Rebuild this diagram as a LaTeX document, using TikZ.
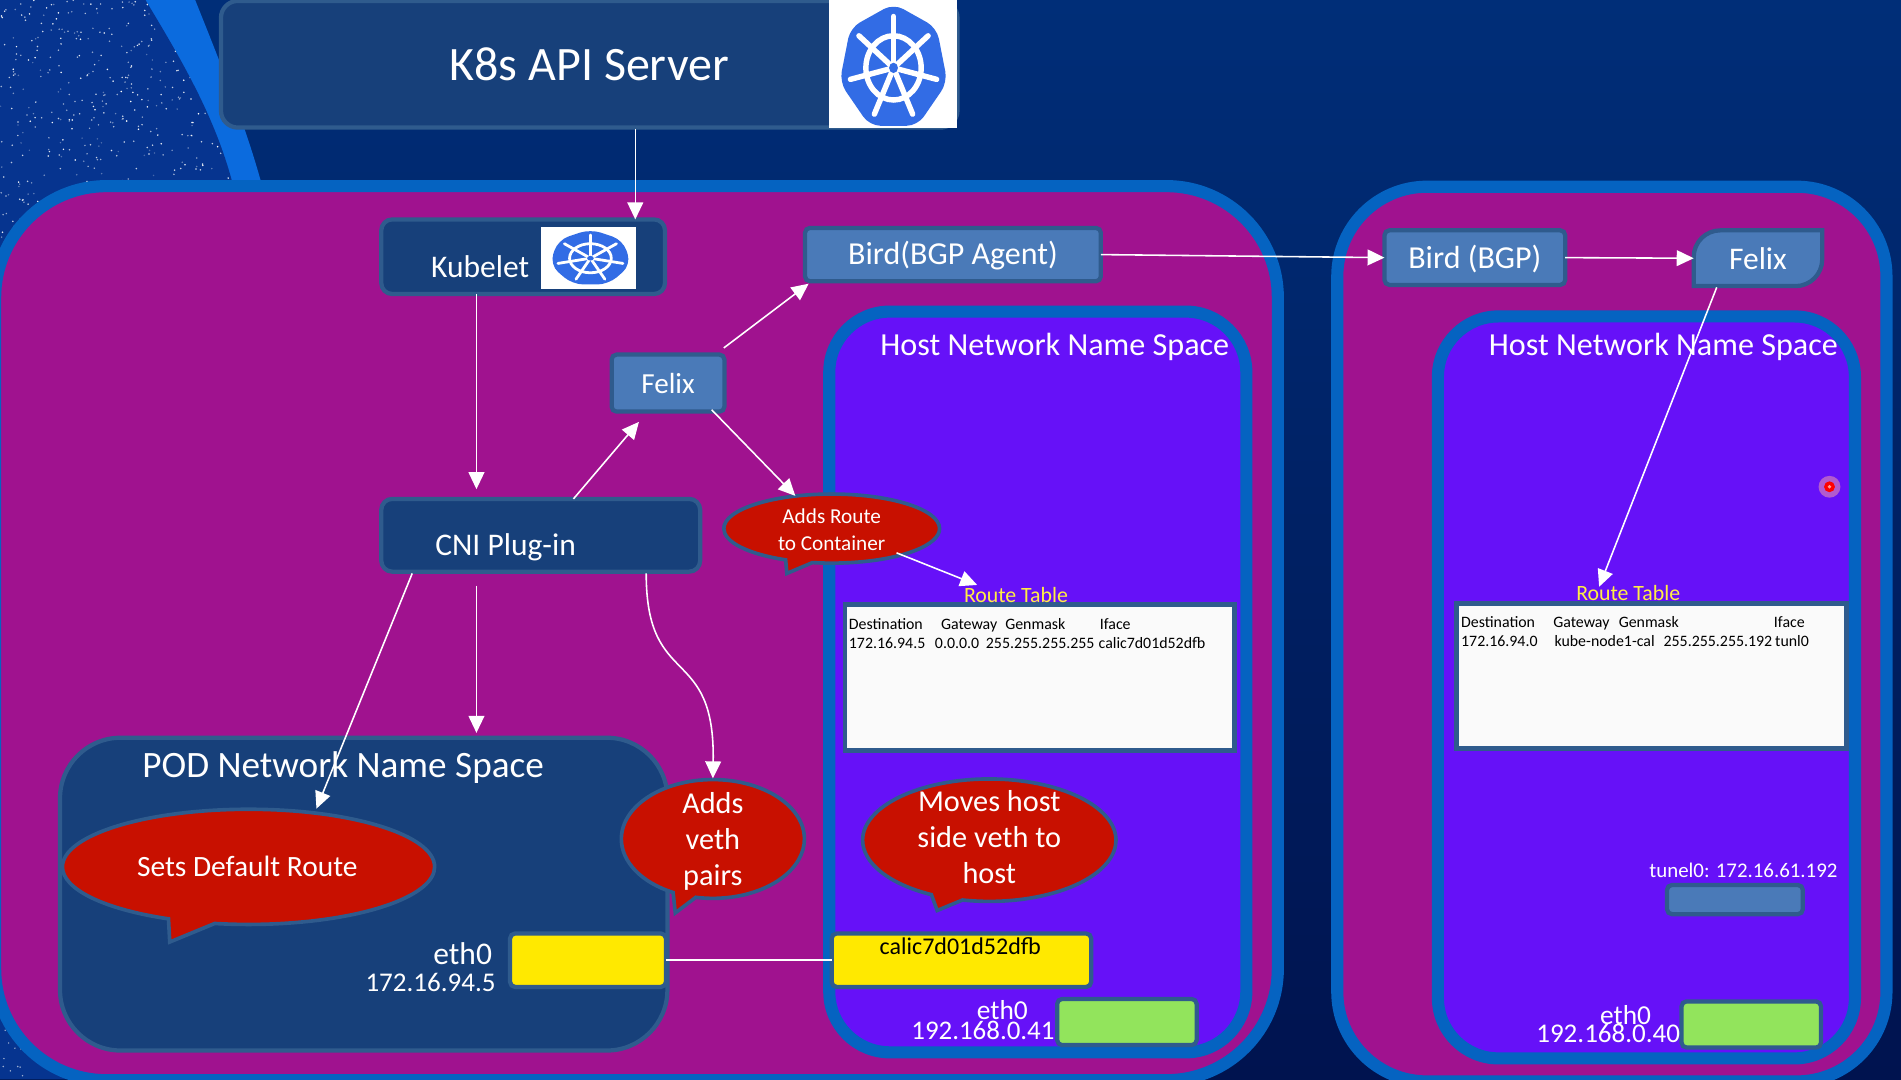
\documentclass[tikz,border=0pt]{standalone}
\usepackage{fontspec}
\setmainfont{Carlito}
\usepackage{xcolor}
\usetikzlibrary{arrows.meta,shapes.callouts,shapes.geometric}

\definecolor{deskbot}{HTML}{00134F}
\definecolor{desktop}{HTML}{002E78}
\definecolor{starsky}{HTML}{06348F}
\definecolor{swoosh}{HTML}{0B6BDE}
\definecolor{hostpurple}{HTML}{A0128F}
\definecolor{hostblue}{HTML}{0563C1}
\definecolor{nsviolet}{HTML}{6611F8}
\definecolor{navyfill}{HTML}{17407A}
\definecolor{edgeblue}{HTML}{2F5B8D}
\definecolor{paleblue}{HTML}{4A7AB8}
\definecolor{bubblered}{HTML}{C81000}
\definecolor{ifyellow}{HTML}{FFE900}
\definecolor{ifgreen}{HTML}{92E45C}
\definecolor{tableinfo}{HTML}{FFEE44}
\definecolor{k8sblue}{HTML}{326CE5}

\tikzset{
  kubelogo/.pic={
    \fill[k8sblue, rounded corners=9pt] (-90:100) -- (-38.6:100) -- (12.9:100)
      -- (64.3:100) -- (115.7:100) -- (167.1:100) -- (218.6:100) -- cycle;
    \draw[white] (0,0) circle (50);
    \foreach \a in {-90,-38.6,12.9,64.3,115.7,167.1,218.6}
      \draw[white, line cap=round] (0,0) -- (\a:80);
    \fill[k8sblue] (0,0) circle (8);
  },
}

\begin{document}
\begin{tikzpicture}[
  x=1pt, y=-1pt,
  >={Triangle[length=14pt,width=13pt]},
  hostbox/.style={draw=hostblue, line width=10pt, fill=hostpurple, rounded corners=92pt, outer sep=0pt},
  nsbox/.style={draw=hostblue, line width=10pt, fill=nsviolet, rounded corners=50pt, outer sep=0pt},
  navybox/.style={draw=edgeblue, line width=3.5pt, fill=navyfill, rounded corners=9pt, outer sep=0pt, text=white, inner sep=0pt},
  palebox/.style={draw=edgeblue, line width=3.5pt, fill=paleblue, rounded corners=4pt, outer sep=0pt, text=white, inner sep=0pt, font=\fontsize{26.4}{30}\selectfont},
  ifbox/.style={draw=edgeblue, line width=3.5pt, rounded corners=4pt, outer sep=0pt},
  tablebox/.style={draw=edgeblue, line width=4pt, fill=white!98!black, outer sep=0pt},
  bubble/.style={ellipse callout, draw=edgeblue, line width=3pt, fill=bubblered, inner sep=0pt, outer sep=0pt},
  label/.style={text=white, inner sep=0pt, align=center},
  cell/.style={anchor=base west, inner sep=0pt, text=black, font=\fontsize{13.1}{16}\selectfont},
  wire/.style={draw=white, line width=1.3pt, ->},
]
  \useasboundingbox (0,0) rectangle (1568,890);
  \clip (0,0) rectangle (1568,890);

  % backdrop
  \shade[top color=desktop, bottom color=deskbot] (0,0) rectangle (1568,890);
  \fill[swoosh] (0,0) -- (161,0) .. controls (185,60) and (205,110) .. (218,160) -- (218,890) -- (0,890) -- cycle;
  \begin{scope}
    \clip (0,0) -- (120,0) .. controls (150,50) and (180,100) .. (194,160) -- (194,890) -- (0,890) -- cycle;
    \fill[starsky] (0,0) rectangle (200,890);
    \pgfmathsetseed{42}
    \foreach \i in {1,...,620} {
      \pgfmathsetmacro\sx{rnd*200}
      \pgfmathsetmacro\sy{rnd*230}
      \pgfmathsetmacro\so{0.25+0.75*rnd}
      \fill[white, opacity=\so] (\sx,\sy) circle (0.7);
    }
    \foreach \i in {1,...,50} {
      \pgfmathsetmacro\sx{rnd*90}
      \pgfmathsetmacro\sy{835+rnd*55}
      \fill[white, opacity=0.6] (\sx,\sy) circle (0.7);
    }
  \end{scope}

  % the two hosts
  \node[hostbox, minimum width=1058pt, minimum height=737.5pt] (hosta) at (525,522.25) {};
  \node[hostbox, minimum width=453pt, minimum height=738pt, rounded corners=74pt] (hostb) at (1329.5,523) {};
  \node[nsbox, minimum width=344pt, minimum height=611pt] (nsa) at (856,562.5) {};
  \node[nsbox, minimum width=344pt, minimum height=612pt] (nsb) at (1358,567) {};
  \node[label, font=\fontsize{26.5}{30}\selectfont] (nsatitle) at (870,286) {Host Network Name Space};
  \node[label, font=\fontsize{26.5}{30}\selectfont] (nsbtitle) at (1372,286) {Host Network Name Space};

  % api server and kubelet
  \node[navybox, minimum width=607.5pt, minimum height=104.5pt, rounded corners=14pt,
        font=\fontsize{39.6}{46}\selectfont] (api) at (486,53) {K8s API Server};
  \fill[white] (684,0) rectangle (789.5,105.5);
  \pic[xscale=.456, yscale=.53, line width=4.5pt] at (737,56) {kubelogo};
  \node[navybox, minimum width=234pt, minimum height=61.5pt] (kubelet) at (431.5,211.75) {};
  \node[label, font=\fontsize{26}{30}\selectfont] (kubelettext) at (396,220) {Kubelet};
  \fill[white] (446,187) rectangle (524.5,238);
  \pic[xscale=.344, yscale=.24, line width=2.3pt] at (487,213) {kubelogo};

  % calico pieces
  \node[palebox, minimum width=244pt, minimum height=44pt] (bird) at (786,210) {};
  \node[label, font=\fontsize{26.4}{30}\selectfont] (birdtext) at (786,211) {Bird(BGP Agent)};
  \node[palebox, minimum width=93pt, minimum height=47pt, font=\fontsize{24}{28}\selectfont] (felix) at (551,316) {Felix};
  \node[navybox, minimum width=263pt, minimum height=60pt] (cni) at (446,441.5) {};
  \node[label, font=\fontsize{26}{30}\selectfont] (cnitext) at (417,451) {CNI Plug-in};
  \node[palebox, minimum width=149pt, minimum height=45pt] (birdb) at (1216.5,212.5) {};
  \node[label, font=\fontsize{26.4}{30}\selectfont] (birdbtext) at (1216.5,214) {Bird (BGP)};
  \draw[draw=edgeblue, line width=3.5pt, fill=paleblue] (1397,236) [rounded corners=22pt] -- (1397,190) [sharp corners] -- (1503,190) [rounded corners=22pt] -- (1503,236) [sharp corners] -- cycle;
  \node[label, minimum width=106pt, minimum height=46pt, outer sep=0pt, font=\fontsize{26}{30}\selectfont] (felixb) at (1450,213) {Felix};

  % route tables
  \node[tablebox, minimum width=321pt, minimum height=120.5pt] (tablea) at (857.5,558.75) {};
  \node[tablebox, minimum width=321.5pt, minimum height=119.5pt] (tableb) at (1362.25,557.75) {};
  \node[inner sep=0pt, text=tableinfo, font=\fontsize{18}{20}\selectfont] (routea) at (838,491) {Route Table};
  \node[inner sep=0pt, text=tableinfo, font=\fontsize{18}{20}\selectfont] (routeb) at (1343,489) {Route Table};
  \foreach \cx/\cy/\ctext [count=\n] in {700/519/Destination, 776/519/Gateway, 829/519/Genmask, 907/519/Iface,
      700/535/172.16.94.5, 771/535/0.0.0.0, 813/535/255.255.255.255, 906/535/calic7d01d52dfb}
    \node[cell] (rowa\n) at (\cx,\cy) {\ctext};
  \foreach \cx/\cy/\ctext [count=\n] in {1205/517.5/Destination, 1281/517.5/Gateway, 1335/517.5/Genmask, 1463/517.5/Iface,
      1205/533/172.16.94.0, 1282/533/kube-node1-cal, 1372/533/255.255.255.192, 1464/533/tunl0}
    \node[cell] (rowb\n) at (\cx,\cy) {\ctext};

  % pod namespace and interfaces
  \node[navybox, minimum width=501pt, minimum height=258pt, rounded corners=50pt] (pod) at (300,737.5) {};
  \node[label, font=\fontsize{30.7}{34}\selectfont] (podtitle) at (283,633) {POD Network Name Space};
  \node[ifbox, fill=ifyellow, minimum width=128.5pt, minimum height=44pt] (podeth) at (485,792) {};
  \node[ifbox, fill=ifyellow, minimum width=214pt, minimum height=44pt] (calic) at (793,792) {};
  \node[inner sep=0pt, text=black, font=\fontsize{19.8}{23}\selectfont] (calictext) at (792,780) {calic7d01d52dfb};
  \node[ifbox, fill=ifgreen, minimum width=115pt, minimum height=38pt] (ethgreena) at (929.5,843) {};
  \node[ifbox, fill=ifgreen, minimum width=115pt, minimum height=38pt] (ethgreenb) at (1444.5,845) {};
  \node[ifbox, fill=paleblue, minimum width=112pt, minimum height=24pt] (tunnel) at (1431,742) {};
  \node[label, font=\fontsize{17.2}{22}\selectfont] (tunneltext) at (1438,718) {tunel0: 172.16.61.192};
  \node[label, anchor=east, font=\fontsize{26}{30}\selectfont] (podethname) at (406,787) {eth0};
  \node[label, anchor=east, font=\fontsize{22.3}{25}\selectfont] (podethip) at (409,810) {172.16.94.5};
  \node[label, anchor=east, font=\fontsize{22.6}{25}\selectfont] (hostethname) at (848,833) {eth0};
  \node[label, anchor=east, font=\fontsize{22.2}{25}\selectfont] (hostethip) at (870,850) {192.168.0.41};
  \node[label, anchor=east, font=\fontsize{22.6}{25}\selectfont] (peerethname) at (1362,837) {eth0};
  \node[label, anchor=east, font=\fontsize{22.3}{25}\selectfont] (peerethip) at (1386,852) {192.168.0.40};

  % callouts
  \node[bubble, minimum width=178pt, minimum height=57pt, callout absolute pointer={(649,473)}] (addroute) at (686,436) {};
  \node[label, font=\fontsize{17.5}{22}\selectfont] (addroutetext) at (686,437) {Adds Route\\to Container};
  \node[bubble, minimum width=307pt, minimum height=95pt, callout absolute pointer={(140,777)}] (defroute) at (205,715) {};
  \node[label, font=\fontsize{24.3}{29}\selectfont] (defroutetext) at (204,715) {Sets Default Route};
  \node[bubble, minimum width=151pt, minimum height=98pt, callout absolute pointer={(557,753)}] (addveth) at (588,692) {};
  \node[label, font=\fontsize{25}{29.5}\selectfont] (addvethtext) at (588,694) {Adds\\veth\\pairs};
  \node[bubble, minimum width=209pt, minimum height=101pt, callout absolute pointer={(773,751)}] (moveveth) at (816,693) {};
  \node[label, font=\fontsize{25}{29.5}\selectfont] (movevethtext) at (816,690.5) {Moves host\\side veth to\\host};

  % connectors
  \draw[wire] ([shift={(38,1)}]api.south) -- ([shift={(92.5,0)}]kubelet.north);
  \draw[wire] ([shift={(-38.5,0)}]kubelet.south) -- ([shift={(-53,-8)}]cni.north);
  \draw[wire] ([shift={(27,0)}]cni.north) -- ([shift={(-24,8.5)}]felix.south);
  \draw[wire] ([shift={(46,-5.5)}]felix.north) -- ([shift={(-119,2)}]bird.south);
  \draw[wire] ([shift={(36,-1.5)}]felix.south) -- ([shift={(-30,-27)}]addroute.center);
  \draw[wire] ([shift={(53.5,20)}]addroute.center) -- ([shift={(-32,-8.5)}]routea.center);
  \draw[wire] ([shift={(-106,1.5)}]cni.south) -- ([shift={(56,-48)}]defroute.center);
  \draw[wire] ([shift={(-53,11.5)}]cni.south) -- ([shift={(93,-4)}]pod.north);
  \draw[wire] ([shift={(87,1.5)}]cni.south) .. controls (533,570) and (590,530) .. ([shift={(0,-50)}]addveth.center);
  \draw[wire] (bird.east) -- (birdb.west);
  \draw[wire] (birdb.east) -- (felixb.west);
  \draw[wire] ([shift={(-34,1)}]felixb.south) -- ([shift={(-24,-5)}]routeb.center);
  \draw[draw=white, line width=1.3pt] (podeth.east) -- (calic.west);

  % pointer dot
  \fill[red!35!white, opacity=.5] (1509,401.5) circle (9);
  \fill[red] (1509,401.5) circle (4.5);
  \fill[white!60!red] (1509,401.5) circle (1.6);
\end{tikzpicture}
\end{document}
